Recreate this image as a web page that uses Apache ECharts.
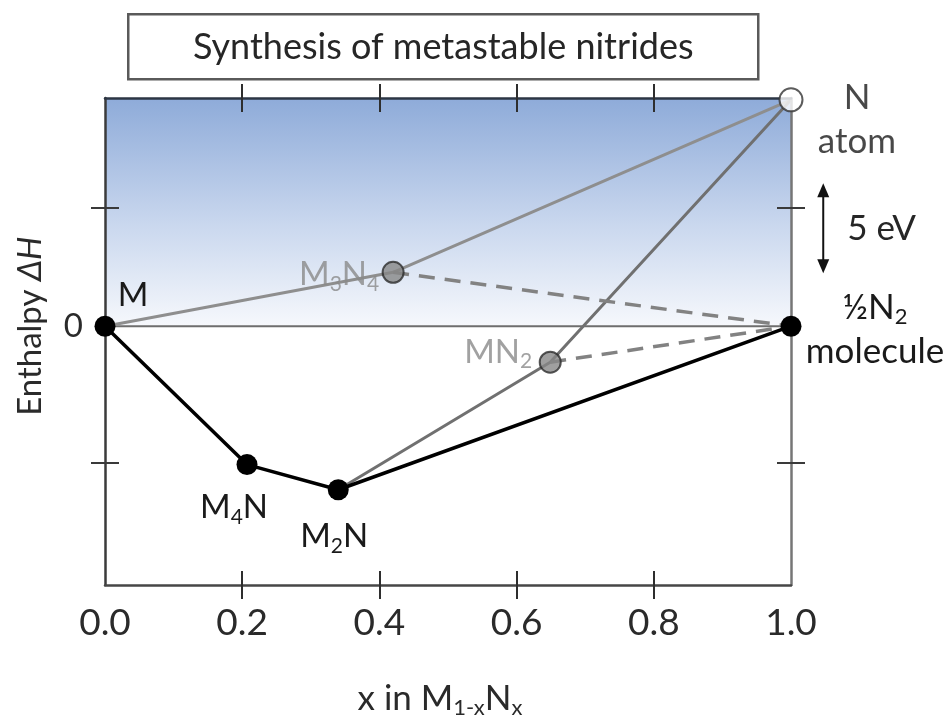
<!DOCTYPE html>
<html>
<head>
<meta charset="utf-8">
<script src="https://cdn.jsdelivr.net/npm/echarts@6/dist/echarts.min.js"></script>
<style>
  html, body { margin: 0; padding: 0; background: #ffffff; }
  #chart { width: 951px; height: 715px; }
</style>
</head>
<body>
<div id="chart"></div>
<script>
// Phases: composition x in M(1-x)N(x) and formation enthalpy ΔH (eV per atom)
const phaseNames = ['M', 'M4N', 'M2N', 'M3N4', 'MN2', '½N2', 'N'];
const phaseX     = [0,   0.207, 0.34,  0.42,   0.649, 1,     1];
const phaseH     = [0,   -7.7,  -9.1,  3.0,    -2.0,  0,     12.6];

// Which phases each drawn path connects
const hullPhases       = ['M', 'M4N', 'M2N', '½N2'];   // stable convex hull
const metastablePhases = ['M3N4', 'MN2'];
const m3n4Route        = ['M', 'M3N4', 'N'];
const mn2Route         = ['M2N', 'MN2', 'N'];
const m3n4Decomp       = ['M3N4', '½N2'];
const mn2Decomp        = ['MN2', '½N2'];

// Axis ticks and labels
const xLabelValues = [0, 0.2, 0.4, 0.6, 0.8, 1.0];
const xTickValues  = [0.2, 0.4, 0.6, 0.8];
const yLabelValues = [0];
const yTickValues  = [-7.6, 6.6];
const yRange       = [-14.4, 12.7];
const scaleBarEv   = [2.95, 7.95];   // 5 eV scale bar

const FONT = 'Lato, "Open Sans", sans-serif';
const BLACK = '#1a1a1a';
const GREY_TEXT = '#8a8a8a';

function pt(name) {
  const i = phaseNames.indexOf(name);
  return [phaseX[i], phaseH[i]];
}

// Turn "M3N4" into rich text with subscripted digits
function toRich(name, n, s) {
  let out = '';
  for (const m of name.matchAll(/(\d+)|(\D+)/g)) {
    out += m[1] ? `{${s}|${m[1]}}` : `{${n}|${m[2]}}`;
  }
  return out;
}

const richStyles = {
  n:  { fontFamily: FONT, fontSize: 33, color: BLACK, lineHeight: 44 },
  s:  { fontFamily: FONT, fontSize: 21, color: BLACK, padding: [19, 0, 0, 0] },
  b:  { fontFamily: FONT, fontSize: 35, color: BLACK, lineHeight: 44 },
  bs: { fontFamily: FONT, fontSize: 22, color: BLACK, padding: [19, 0, 0, 0] },
  g:  { fontFamily: FONT, fontSize: 33, color: GREY_TEXT, lineHeight: 44 },
  gs: { fontFamily: FONT, fontSize: 21, color: GREY_TEXT, padding: [19, 0, 0, 0] }
};

// Label placement for each phase (pixel offset of label centre from the point)
const labelLayout = {
  'M':    { offset: [28, -31], style: ['n', 's'] },
  'M4N':  { offset: [-13, 43], style: ['n', 's'] },
  'M2N':  { offset: [-4, 47],  style: ['n', 's'] },
  'M3N4': { offset: [-54, 2],  style: ['g', 'gs'] },
  'MN2':  { offset: [-52, -10], style: ['g', 'gs'] },
  '½N2':  { offset: [84, 3],   style: ['b', 'bs'], extra: 'molecule' },
  'N':    { offset: [66, 20],  style: ['b', 'bs'], extra: 'atom' }
};

function labelFor(name) {
  const L = labelLayout[name];
  let text = toRich(name, L.style[0], L.style[1]);
  if (L.extra) text += '\n{' + L.style[0] + '|' + L.extra + '}';
  return {
    show: true,
    position: 'inside',
    offset: L.offset,
    align: 'center',
    verticalAlign: 'middle',
    formatter: text,
    rich: richStyles
  };
}

function pointItems(names) {
  return names.map(n => ({ name: n, value: pt(n), label: labelFor(n) }));
}

const chart = echarts.init(document.getElementById('chart'), null, { renderer: 'canvas' });

const gridBox = { left: 105, top: 98, width: 686, height: 487 };

function xAxisDef(position, inside, showLine, showLabel, lineColor) {
  return {
    type: 'value', min: 0, max: 1, interval: 0.2, position: position, z: 5,
    axisLine: { show: showLine, onZero: false, lineStyle: { color: lineColor, width: 2.5 } },
    axisTick: { show: true, inside: inside, length: 14, customValues: xTickValues,
                lineStyle: { color: '#2e2e2e', width: 2 } },
    axisLabel: { show: showLabel, customValues: xLabelValues, margin: 20,
                 formatter: v => v.toFixed(1), fontFamily: FONT, fontSize: 37, color: '#2a2a2a' },
    splitLine: { show: false }
  };
}

function yAxisDef(position, inside, showLine, showLabel, lineColor) {
  return {
    type: 'value', min: yRange[0], max: yRange[1], position: position, z: 5,
    axisLine: { show: showLine, onZero: false, lineStyle: { color: lineColor, width: 2.5 } },
    axisTick: { show: true, inside: inside, length: 14, customValues: yTickValues,
                lineStyle: { color: '#3a3a3a', width: 2 } },
    axisLabel: { show: showLabel, customValues: yLabelValues, margin: 22,
                 formatter: v => String(v), fontFamily: FONT, fontSize: 33, color: '#2a2a2a' },
    splitLine: { show: false }
  };
}

const lineBase = {
  type: 'line', xAxisIndex: 0, yAxisIndex: 0, clip: false, silent: true,
  symbol: 'none', animation: false
};

const option = {
  animation: false,
  backgroundColor: '#ffffff',
  grid: Object.assign({ outerBoundsMode: 'none' }, gridBox),
  xAxis: [
    Object.assign(xAxisDef('bottom', true, true, true, '#474747'), {
      name: '{n|x in M}{s|1-x}{n|N}{s|x}', nameLocation: 'middle', nameGap: 94,
      nameTextStyle: {
        padding: [0, 16, 0, 0],
        rich: {
          n: { fontFamily: FONT, fontSize: 35, color: '#2a2a2a' },
          s: { fontFamily: FONT, fontSize: 22, color: '#2a2a2a', padding: [18, 0, 0, 0] }
        }
      }
    }),
    xAxisDef('bottom', false, false, false, '#474747'),
    xAxisDef('top', true, true, false, '#2c3644'),
    xAxisDef('top', false, false, false, '#2c3644')
  ],
  yAxis: [
    yAxisDef('left', true, true, true, '#3b3b3b'),
    yAxisDef('left', false, false, false, '#3b3b3b'),
    yAxisDef('right', true, true, false, '#767676'),
    yAxisDef('right', false, false, false, '#767676')
  ],
  series: [
    // ΔH = 0 reference line, with the shaded region above it
    Object.assign({}, lineBase, {
      name: 'zero', z: 1,
      data: [[0, 0], [1, 0]],
      lineStyle: { color: '#6e6e6e', width: 2 },
      markArea: {
        silent: true,
        itemStyle: {
          color: new echarts.graphic.LinearGradient(0, 0, 0, 1, [
            { offset: 0, color: '#8eabd9' },
            { offset: 0.55, color: '#c9d7ee' },
            { offset: 1, color: '#f6f8fc' }
          ])
        },
        data: [[{ coord: [0, 0] }, { coord: [1, yRange[1]] }]]
      }
    }),
    Object.assign({}, lineBase, {
      name: 'M3N4 route', z: 3,
      data: m3n4Route.map(pt),
      lineStyle: { color: '#8e8e8e', width: 3 }
    }),
    Object.assign({}, lineBase, {
      name: 'MN2 route', z: 3,
      data: mn2Route.map(pt),
      lineStyle: { color: '#707070', width: 3 }
    }),
    Object.assign({}, lineBase, {
      name: 'M3N4 decomposition', z: 3,
      data: m3n4Decomp.map(pt),
      lineStyle: { color: '#828282', width: 3.5, type: [16, 10] }
    }),
    Object.assign({}, lineBase, {
      name: 'MN2 decomposition', z: 3,
      data: mn2Decomp.map(pt),
      lineStyle: { color: '#828282', width: 3.5, type: [16, 10] }
    }),
    Object.assign({}, lineBase, {
      name: 'convex hull', z: 10,
      data: pointItems(hullPhases),
      symbol: 'circle', symbolSize: 21, showSymbol: true,
      itemStyle: { color: '#000000' },
      lineStyle: { color: '#000000', width: 3.5 }
    }),
    {
      type: 'scatter', name: 'metastable', z: 10, clip: false, silent: true,
      data: pointItems(metastablePhases),
      symbol: 'circle', symbolSize: 21,
      itemStyle: { color: '#878787', borderColor: '#2a2a2a', borderWidth: 2 }
    },
    {
      type: 'scatter', name: 'N atom', z: 10, clip: false, silent: true,
      data: pointItems(['N']),
      symbol: 'circle', symbolSize: 23,
      itemStyle: { color: '#ffffff', borderColor: '#333333', borderWidth: 2 }
    },
    // 5 eV scale bar (double-headed arrow) to the right of the plot
    {
      type: 'custom', name: 'scale', z: 5, silent: true, clip: false,
      xAxisIndex: 0, yAxisIndex: 0,
      data: [[1.047, scaleBarEv[0], scaleBarEv[1]]],
      renderItem: function (params, api) {
        const x = api.value(0);
        const lo = api.coord([x, api.value(1)]);
        const hi = api.coord([x, api.value(2)]);
        const hw = 6, hl = 14;
        return {
          type: 'group',
          children: [
            { type: 'line', shape: { x1: lo[0], y1: lo[1] - hl + 2, x2: hi[0], y2: hi[1] + hl - 2 },
              style: { stroke: '#111111', lineWidth: 2 } },
            { type: 'polygon', shape: { points: [[hi[0], hi[1]], [hi[0] - hw, hi[1] + hl], [hi[0] + hw, hi[1] + hl]] },
              style: { fill: '#111111' } },
            { type: 'polygon', shape: { points: [[lo[0], lo[1]], [lo[0] - hw, lo[1] - hl], [lo[0] + hw, lo[1] - hl]] },
              style: { fill: '#111111' } }
          ]
        };
      }
    }
  ]
};

chart.setOption(option);

// Text annotations placed from data coordinates
const evMid = (scaleBarEv[0] + scaleBarEv[1]) / 2;
const evPos = chart.convertToPixel({ gridIndex: 0 }, [1.047, evMid]);
const zeroPos = chart.convertToPixel({ gridIndex: 0 }, [0, 0]);

chart.setOption({
  graphic: [
    {
      type: 'group', left: 127, top: 13,
      children: [
        { type: 'rect', shape: { x: 0, y: 0, width: 630, height: 65 },
          style: { fill: '#ffffff', stroke: '#5a5a5a', lineWidth: 2.5 } },
        { type: 'text', x: 315, y: 33,
          style: { text: 'Synthesis of metastable nitrides', fontFamily: FONT, fontSize: 36,
                   fill: '#262626', textAlign: 'center', textVerticalAlign: 'middle' } }
      ]
    },
    {
      type: 'text', x: evPos[0] + 24, y: evPos[1],
      style: { text: '5 eV', fontFamily: FONT, fontSize: 35, fill: '#262626',
               textAlign: 'left', textVerticalAlign: 'middle' }
    },
    {
      type: 'text', x: 30, y: zeroPos[1], rotation: Math.PI / 2,
      style: {
        text: '{n|Enthalpy }{i|ΔH}',
        textAlign: 'center', textVerticalAlign: 'middle',
        rich: {
          n: { fontFamily: FONT, fontSize: 33, fill: '#2a2a2a' },
          i: { fontFamily: FONT, fontSize: 33, fill: '#2a2a2a', fontStyle: 'italic' }
        }
      }
    }
  ]
});
</script>
</body>
</html>
